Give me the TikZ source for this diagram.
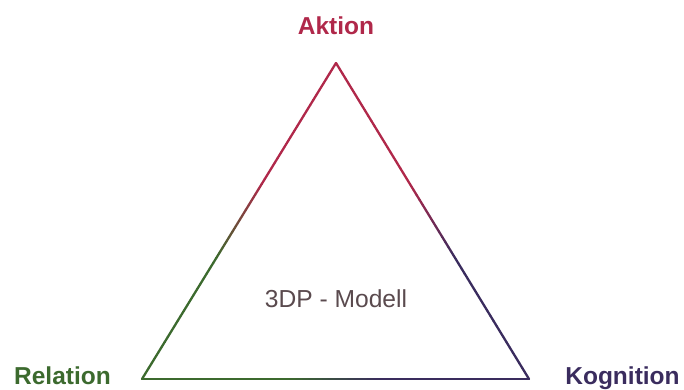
\documentclass[tikz,border=0pt]{standalone}
\usepackage{fontspec}
\setmainfont{Liberation Sans}
\usetikzlibrary{calc}
\definecolor{akt}{HTML}{B0284A}
\definecolor{rel}{HTML}{3C6A2E}
\definecolor{kog}{HTML}{3A2C5E}
\definecolor{midtxt}{HTML}{5A4A4E}
\tikzset{
  vlabel/.style={font=\bfseries\fontsize{24.5}{28}\selectfont, anchor=base, inner sep=0pt},
  edgeseg/.style={line width=2.3pt, line cap=round}
}
\newcommand\gradedge[4]{%
  \foreach \i in {0,...,59}{%
    \pgfmathsetmacro\ta{\i/60}%
    \pgfmathsetmacro\tb{(\i+1)/60}%
    \pgfmathsetmacro\tm{(\i+0.5)/60}%
    \pgfmathsetmacro\p{min(100,max(0,(0.62-\tm)/0.24*100))}%
    \draw[edgeseg, color={#3!\p!#4}] ($(#1)!\ta!(#2)$) -- ($(#1)!\tb!(#2)$);
  }%
}
\begin{document}
\begin{tikzpicture}[x=1pt,y=-1pt]
  \useasboundingbox (0,0) rectangle (684,390);
  \coordinate (A) at (336,63);
  \coordinate (R) at (142,379);
  \coordinate (K) at (529,379);
  \gradedge{A}{R}{akt}{rel}
  \gradedge{A}{K}{akt}{kog}
  \gradedge{R}{K}{rel}{kog}
  \node[vlabel, text=akt] (aktion) at (336,35) {Aktion};
  \node[vlabel, text=rel] (relation) at (62.5,384.5) {Relation};
  \node[vlabel, text=kog] (kognition) at (622.5,384.5) {Kognition};
  \node[anchor=base, inner sep=0pt, text=midtxt, font=\fontsize{24.6}{28}\selectfont] (modell) at (336,307) {3DP - Modell};
\end{tikzpicture}
\end{document}
